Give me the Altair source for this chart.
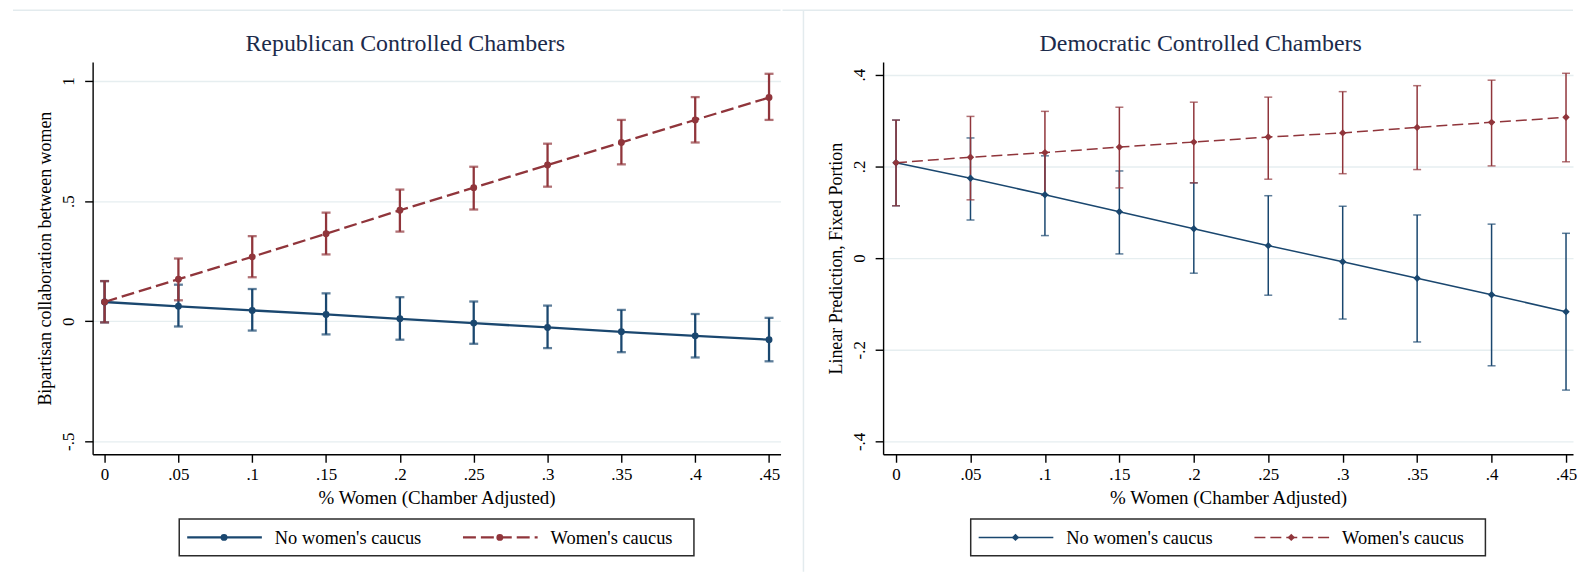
import altair as alt
import pandas as pd

# ---------------- data ----------------
x_vals = [0.0, 0.05, 0.1, 0.15, 0.2, 0.25, 0.3, 0.35, 0.4, 0.45]
x_tick_labels = ["0", ".05", ".1", ".15", ".2", ".25", ".3", ".35", ".4", ".45"]
series_names = ["No women's caucus", "Women's caucus"]

# Republican controlled chambers
rep_no_est = [0.080, 0.062, 0.045, 0.028, 0.010, -0.008, -0.026, -0.044, -0.061, -0.077]
rep_no_lo = [-0.005, -0.022, -0.039, -0.055, -0.077, -0.094, -0.112, -0.129, -0.151, -0.167]
rep_no_hi = [0.167, 0.152, 0.134, 0.116, 0.100, 0.082, 0.065, 0.047, 0.030, 0.014]
rep_wc_est = [0.080, 0.175, 0.268, 0.364, 0.462, 0.556, 0.650, 0.744, 0.838, 0.931]
rep_wc_lo = [-0.005, 0.087, 0.183, 0.278, 0.373, 0.465, 0.560, 0.653, 0.744, 0.838]
rep_wc_hi = [0.167, 0.261, 0.354, 0.452, 0.548, 0.643, 0.739, 0.838, 0.933, 1.030]
rep_y_ticks = [-0.5, 0, 0.5, 1]
rep_y_labels = ["-.5", "0", ".5", "1"]

# Democratic controlled chambers
dem_no_est = [0.208, 0.174, 0.138, 0.101, 0.064, 0.027, -0.008, -0.044, -0.080, -0.117]
dem_no_lo = [0.114, 0.083, 0.049, 0.009, -0.033, -0.081, -0.133, -0.183, -0.235, -0.288]
dem_no_hi = [0.301, 0.262, 0.223, 0.190, 0.164, 0.136, 0.113, 0.094, 0.074, 0.054]
dem_wc_est = [0.208, 0.220, 0.230, 0.242, 0.253, 0.264, 0.273, 0.285, 0.296, 0.307]
dem_wc_lo = [0.114, 0.127, 0.137, 0.153, 0.164, 0.172, 0.184, 0.193, 0.201, 0.210]
dem_wc_hi = [0.301, 0.309, 0.320, 0.329, 0.340, 0.351, 0.363, 0.376, 0.388, 0.403]
dem_y_ticks = [-0.4, -0.2, 0, 0.2, 0.4]
dem_y_labels = ["-.4", "-.2", "0", ".2", ".4"]

# ---------------- styling ----------------
BLUE = "#1a476f"
RED = "#90353b"
FONT = "Liberation Serif"
TITLE_COLOR = "#1c2b4b"
FRAME = "#e3ebee"


def label_expr(vals, labels):
    expr = "''"
    for v, l in zip(vals, labels):
        expr = f"abs(datum.value - ({v})) < 1e-9 ? '{l}' : ({expr})"
    return expr


def frame(est, lo, hi):
    return pd.DataFrame({"x": x_vals, "y": est, "lo": lo, "hi": hi})


one = pd.DataFrame({"k": [0]})


def panel(title, title_x, ytitle, no_df, wc_df, xdom, ydom, yticks, ylabels, width, height,
          lw, msize, shape, dash, capw, legend_lw, left_extra, legend_x):
    xenc = alt.X("x:Q", scale=alt.Scale(domain=xdom, nice=False, zero=False),
                 axis=alt.Axis(values=x_vals, labelExpr=label_expr(x_vals, x_tick_labels),
                               title="% Women (Chamber Adjusted)", grid=False))

    def yenc(field):
        return alt.Y(f"{field}:Q", scale=alt.Scale(domain=ydom, nice=False, zero=False),
                     axis=alt.Axis(values=yticks, labelExpr=label_expr(yticks, ylabels),
                                   title=ytitle, grid=True, labelAngle=-90,
                                   labelAlign="center", labelBaseline="bottom"))

    layers = []

    def ci(df, col):
        base = alt.Chart(df)
        return [
            base.mark_rule(color=col, strokeWidth=lw).encode(x=xenc, y=yenc("lo"), y2="hi:Q"),
            base.mark_tick(color=col, orient="horizontal", size=capw, thickness=lw).encode(x=xenc, y=yenc("lo")),
            base.mark_tick(color=col, orient="horizontal", size=capw, thickness=lw).encode(x=xenc, y=yenc("hi")),
        ]

    def est(df, col, d):
        base = alt.Chart(df)
        kw = {"strokeDash": d} if d else {}
        return [
            base.mark_line(color=col, strokeWidth=lw, **kw).encode(x=xenc, y=yenc("y")),
            base.mark_point(color=col, filled=True, opacity=1, shape=shape, size=msize).encode(x=xenc, y=yenc("y")),
        ]

    layers += ci(no_df, BLUE)
    layers += ci(wc_df, RED)
    layers += est(no_df, BLUE, None)
    layers += est(wc_df, RED, dash)

    o = alt.Chart(one)
    # frame decorations (Stata graph-region outlines)
    layers.append(o.mark_rule(color=FRAME, strokeWidth=1.5).encode(
        x=alt.value(left_extra), x2=alt.value(width), y=alt.value(-52)))
    if left_extra < -90:
        layers.append(o.mark_rule(color=FRAME, strokeWidth=1.5).encode(
            x=alt.value(-80), y=alt.value(-52), y2=alt.value(512)))

    # panel title
    layers.append(o.mark_text(align="center", baseline="middle", font=FONT, fontSize=24,
                              color=TITLE_COLOR).encode(
        x=alt.value(title_x), y=alt.value(-18), text=alt.value(title)))

    # legend (drawn below the plot, like Stata's)
    lx0, lx1, ly0, ly1 = legend_x, legend_x + 517, 459, 496
    ymid = (ly0 + ly1) / 2
    layers.append(o.mark_rect(fill="white", stroke="#2b2b2b", strokeWidth=1.5).encode(
        x=alt.value(lx0), x2=alt.value(lx1), y=alt.value(ly0), y2=alt.value(ly1)))
    entries = [(lx0 + 8, series_names[0], BLUE, None), (lx0 + 285, series_names[1], RED, dash)]
    for sx, name, col, d in entries:
        kw = {"strokeDash": d} if d else {}
        layers.append(o.mark_rule(color=col, strokeWidth=legend_lw, **kw).encode(
            x=alt.value(sx), x2=alt.value(sx + 75), y=alt.value(ymid)))
        layers.append(o.mark_point(color=col, filled=True, opacity=1, shape=shape, size=msize).encode(
            x=alt.value(sx + 37), y=alt.value(ymid)))
        layers.append(o.mark_text(align="left", baseline="middle", font=FONT, fontSize=18.5,
                                  color="black").encode(
            x=alt.value(sx + 88), y=alt.value(ymid + 1), text=alt.value(name)))

    return alt.layer(*layers).properties(width=width, height=height)


left = panel("Republican Controlled Chambers", 314, "Bipartisan collaboration between women",
             frame(rep_no_est, rep_no_lo, rep_no_hi), frame(rep_wc_est, rep_wc_lo, rep_wc_hi),
             [-0.0081, 0.4578], [-0.554, 1.079], rep_y_ticks, rep_y_labels, 691, 394,
             2.3, 48, "circle", [13, 5], 9, 2.2, -80, 87)

right = panel("Democratic Controlled Chambers", 319, "Linear Prediction, Fixed Portion",
              frame(dem_no_est, dem_no_lo, dem_no_hi), frame(dem_wc_est, dem_wc_lo, dem_wc_hi),
              [-0.0087, 0.4547], [-0.428, 0.4276], dem_y_ticks, dem_y_labels, 693, 394,
              1.5, 55, "diamond", [11, 5], 8, 1.5, -101, 88)

chart = alt.hconcat(left, right, spacing=0).properties(
    padding={"left": 4, "top": 0, "right": 0, "bottom": 0}
).configure_view(stroke=None).configure_axis(
    labelFont=FONT, titleFont=FONT, labelFontSize=17, titleFontSize=19,
    labelColor="black", titleColor="black", titleFontWeight="normal",
    domainColor="black", domainWidth=1.4, tickColor="black", tickWidth=1.4, tickSize=8,
    gridColor="#e6eef0", gridWidth=1.4, labelPadding=4, titlePadding=6,
).configure_axisY(titleFontSize=18, labelPadding=7, titlePadding=5)

chart.save("out.html", embed_options={"renderer": "svg", "actions": False})
